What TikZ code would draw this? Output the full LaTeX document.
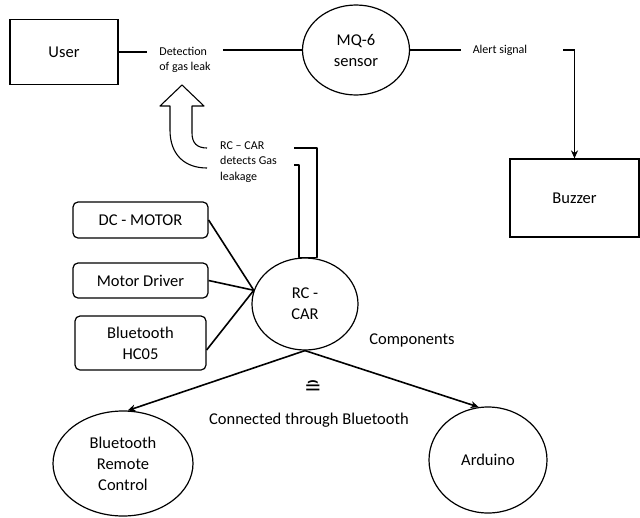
\documentclass[tikz,border=0pt]{standalone}
\usepackage{fontspec}
\setmainfont{Carlito}
\newfontfamily\symfont{DejaVu Sans}
\usepackage{tikz}
\usetikzlibrary{arrows.meta,positioning,shapes.geometric}
\tikzset{
  box/.style={draw,line width=1.2pt,minimum width=108pt,minimum height=65pt,font=\fontsize{16.5}{21}\selectfont,align=center},
  rbox/.style={draw,line width=1.2pt,rounded corners=5pt,minimum width=135pt,font=\fontsize{16.5}{21}\selectfont,align=center},
  oval/.style={draw,ellipse,line width=1.2pt,inner sep=0pt,font=\fontsize{16.5}{21}\selectfont,align=center},
  lbl/.style={font=\fontsize{12}{15.5}\selectfont,align=left,inner xsep=12pt,inner ysep=2pt},
  txt/.style={font=\fontsize{16.5}{21}\selectfont},
  ln/.style={line width=1.6pt},
  hollow/.style={line width=1.1pt,line join=round},
  arr/.style={-{Stealth[length=8pt,width=7pt]},line width=1.6pt},
}
\begin{document}
\begin{tikzpicture}[x=1pt,y=-1pt]
\useasboundingbox (0,0) rectangle (640,517);
\node[box] (user) at (64,52) {User};
\node[lbl] (detect) at (185,60) {Detection\\of gas leak};
\node[oval,minimum width=107pt,minimum height=90pt] (mq) at (356,50) {MQ-6\\sensor};
\node[lbl] (alert) at (500,50) {Alert signal};
\node[box,minimum width=129pt,minimum height=78pt] (buzzer) at (574.5,198) {Buzzer};
\coordinate (alertend) at (563,50);
\draw[ln] (user.east) -- (user.east -| detect.west);
\draw[ln] (detect.east |- mq.west) -- (mq.west);
\draw[ln] (mq.east) -- (mq.east -| alert.west);
\draw[arr] (alertend) -| (buzzer.north);
\node[lbl,anchor=west] (note) at (208,162) {RC – CAR\\detects Gas\\leakage};
\draw[hollow] (207,168) .. controls (185,168) and (170,155) .. (170,130) -- (170,106) -- (160,106) -- (182,85) -- (204,106) -- (192,106) -- (192,133) .. controls (192,143) and (197,148) .. (207,148);
\node[oval,minimum width=106pt,minimum height=92pt] (rc) at (305,304) {RC -\\CAR};
\draw[hollow] (294,148) -| ([xshift=12pt]rc.north) -- ([xshift=-6pt]rc.north) |- (294,165);
\node[rbox,minimum height=36pt] (dcm) at (140.5,220) {DC - MOTOR};
\node[rbox,minimum height=35pt] (drv) at (140.5,280.5) {Motor Driver};
\node[rbox,minimum height=54pt,minimum width=131pt] (hc) at (140.5,343) {Bluetooth\\HC05};
\coordinate (hub) at (rc.165);
\draw[ln] (dcm.east) -- (hub);
\draw[ln] (drv.east) -- (hub);
\draw[ln] ([yshift=-7pt]hc.east) -- (hub);
\node[txt] (comp) at (412,340) {Components};
\node[oval,minimum width=140pt,minimum height=105pt] (brc) at (123,463.5) {Bluetooth\\Remote\\Control};
\node[oval,minimum width=118pt,minimum height=106pt] (ard) at (488,460) {Arduino};
\draw[arr] (rc.south) -- (brc.85);
\draw[arr] (rc.south) -- (ard.100);
\node[font=\symfont\fontsize{21}{21}\selectfont] (eq) at (313,388) {≘};
\node[txt] (conn) at (309,420) {Connected through Bluetooth};
\end{tikzpicture}
\end{document}
